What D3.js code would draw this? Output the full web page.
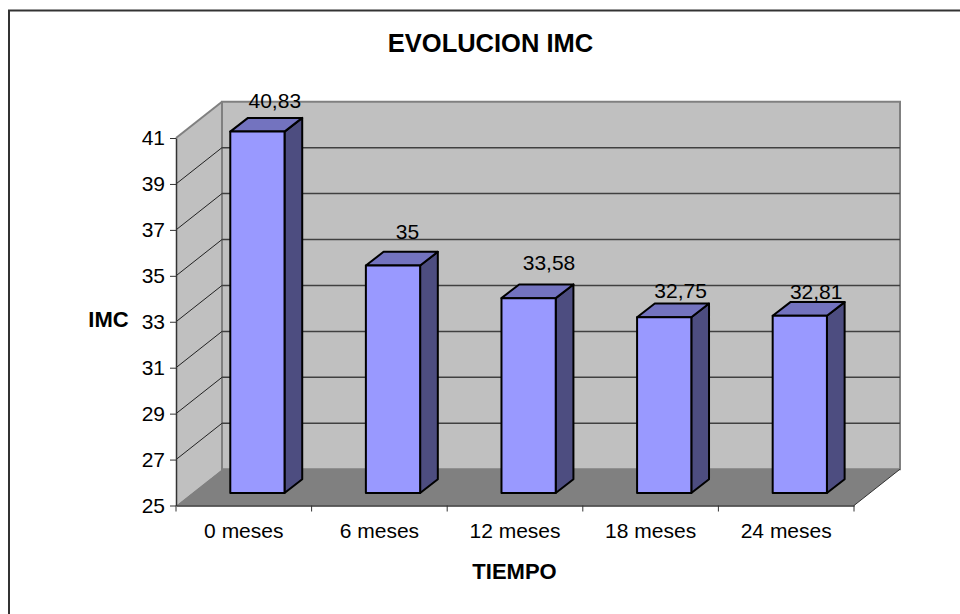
<!DOCTYPE html>
<html>
<head>
<meta charset="utf-8">
<script src="https://d3js.org/d3.v7.min.js"></script>
<style>
  html, body { margin: 0; padding: 0; background: #fff; }
  svg { display: block; }
  text { font-family: "Liberation Sans", Arial, sans-serif; fill: #000; }
</style>
</head>
<body>
<svg id="chart"></svg>
<script>
const categories = ["0 meses", "6 meses", "12 meses", "18 meses", "24 meses"];
const imc = [40.83, 35, 33.58, 32.75, 32.81];
const valueLabels = ["40,83", "35", "33,58", "32,75", "32,81"];
const yTicks = [25, 27, 29, 31, 33, 35, 37, 39, 41];

// data labels were moved by hand in the original, so each has its own nudge
const labelDx = [31, 28, 34, 30, 30];
const labelDy = [-34, -37, -38.6, -29.6, -27];

const svg = d3.select("#chart")
              .attr("width", 960)
              .attr("height", 614);

const x = d3.scaleBand().domain(categories).range([176, 854]);
const y = d3.scaleLinear().domain([25, 41]).range([505.5, 138]);

// offset of the back wall, and of the bars inside the depth
const depthX = 46, depthY = -36.3;
const barShiftX = 13.6, barTopShift = -10.3, barBaseShift = -12.5;
const barW = x.bandwidth() * 0.4, barDepthX = 17.7, barDepthY = -13.7;

const poly = pts => pts.map(p => p.join(",")).join(" ");

// outer frame runs off the right and bottom of the picture
svg.append("path")
   .attr("d", "M9,614V10.5H960")
   .attr("fill", "none")
   .attr("stroke", "#333")
   .attr("stroke-width", 2);

// walls and floor
const x0 = 176, x1 = 854, yTop = y(41), yBase = y(25);

svg.append("polygon")
   .attr("points", poly([[x0, yBase], [x0, yTop], [x0 + depthX, yTop + depthY], [x0 + depthX, yBase + depthY]]))
   .attr("fill", "#c0c0c0");

svg.append("polygon")
   .attr("points", poly([[x0 + depthX, yTop + depthY], [x1 + depthX, yTop + depthY], [x1 + depthX, yBase + depthY], [x0 + depthX, yBase + depthY]]))
   .attr("fill", "#c0c0c0")
   .attr("stroke", "#808080")
   .attr("stroke-width", 2);

svg.append("polygon")
   .attr("points", poly([[x0, yBase], [x0 + depthX, yBase + depthY], [x1 + depthX, yBase + depthY], [x1, yBase]]))
   .attr("fill", "#808080");

svg.append("line")
   .attr("x1", x0).attr("y1", yTop)
   .attr("x2", x0 + depthX).attr("y2", yTop + depthY)
   .attr("stroke", "#808080")
   .attr("stroke-width", 2);

svg.append("line")
   .attr("x1", x1).attr("y1", yBase)
   .attr("x2", x1 + depthX).attr("y2", yBase + depthY)
   .attr("stroke", "#333")
   .attr("stroke-width", 1);

// gridlines on both walls
const inner = yTicks.slice(1, -1);

svg.selectAll(".grid")
   .data(inner)
   .enter().append("line")
   .attr("class", "grid")
   .attr("x1", x0 + depthX)
   .attr("x2", x1 + depthX)
   .attr("y1", d => y(d) + depthY)
   .attr("y2", d => y(d) + depthY)
   .attr("stroke", "#404040")
   .attr("stroke-width", 1.5);

svg.selectAll(".gridSide")
   .data(inner)
   .enter().append("line")
   .attr("class", "gridSide")
   .attr("x1", x0)
   .attr("x2", x0 + depthX)
   .attr("y1", d => y(d))
   .attr("y2", d => y(d) + depthY)
   .attr("stroke", "#222")
   .attr("stroke-width", 1);

// axes
const yAxis = svg.append("g")
   .attr("transform", `translate(${x0},0)`)
   .call(d3.axisLeft(y).tickValues(yTicks).tickSize(6).tickSizeOuter(0).tickPadding(5));

const xAxis = svg.append("g")
   .attr("transform", `translate(0,${yBase})`)
   .call(d3.axisBottom(x).tickSize(0).tickPadding(18));

xAxis.selectAll(".tickMark")
   .data(d3.range(categories.length + 1))
   .enter().append("line")
   .attr("class", "tickMark")
   .attr("x1", i => x0 + i * x.step())
   .attr("x2", i => x0 + i * x.step())
   .attr("y1", 0)
   .attr("y2", 6)
   .attr("stroke", "#333");

[yAxis, xAxis].forEach(a => {
    a.selectAll("path").attr("stroke", "#333").attr("stroke-width", 1.5);
    a.selectAll(".tick line").attr("stroke", "#333");
    a.selectAll("text").attr("font-size", "21px").attr("font-family", '"Liberation Sans", Arial, sans-serif');
});

// bars, drawn as three faces
const bars = svg.selectAll(".bar")
   .data(imc)
   .enter().append("g")
   .attr("class", "bar")
   .attr("stroke", "#000")
   .attr("stroke-width", 2)
   .attr("stroke-linejoin", "round");

const left = (d, i) => x(categories[i]) + (x.bandwidth() - barW) / 2 + barShiftX;
const top_ = d => y(d) + barTopShift;
const base = yBase + barBaseShift;

bars.append("polygon")
   .attr("fill", "#4d4d80")
   .attr("points", (d, i) => {
       const r = left(d, i) + barW;
       return poly([[r, top_(d)], [r + barDepthX, top_(d) + barDepthY], [r + barDepthX, base + barDepthY], [r, base]]);
   });

bars.append("polygon")
   .attr("fill", "#7373bf")
   .attr("points", (d, i) => {
       const l = left(d, i), t = top_(d);
       return poly([[l, t], [l + barDepthX, t + barDepthY], [l + barW + barDepthX, t + barDepthY], [l + barW, t]]);
   });

bars.append("rect")
   .attr("fill", "#9999ff")
   .attr("x", left)
   .attr("y", top_)
   .attr("width", barW)
   .attr("height", d => base - top_(d));

// value labels
svg.selectAll(".valueLabel")
   .data(imc)
   .enter().append("text")
   .attr("class", "valueLabel")
   .attr("x", (d, i) => x(categories[i]) + x.bandwidth() / 2 + labelDx[i])
   .attr("y", (d, i) => y(d) + labelDy[i])
   .attr("text-anchor", "middle")
   .attr("font-size", "21px")
   .text((d, i) => valueLabels[i]);

// titles
svg.append("text")
   .attr("x", 490.5)
   .attr("y", 52)
   .attr("text-anchor", "middle")
   .attr("font-size", "25.5px")
   .attr("font-weight", "bold")
   .text("EVOLUCION IMC");

svg.append("text")
   .attr("x", 108.5)
   .attr("y", 327)
   .attr("text-anchor", "middle")
   .attr("font-size", "22px")
   .attr("font-weight", "bold")
   .text("IMC");

svg.append("text")
   .attr("x", 514.5)
   .attr("y", 579)
   .attr("text-anchor", "middle")
   .attr("font-size", "22px")
   .attr("font-weight", "bold")
   .text("TIEMPO");
</script>
</body>
</html>
